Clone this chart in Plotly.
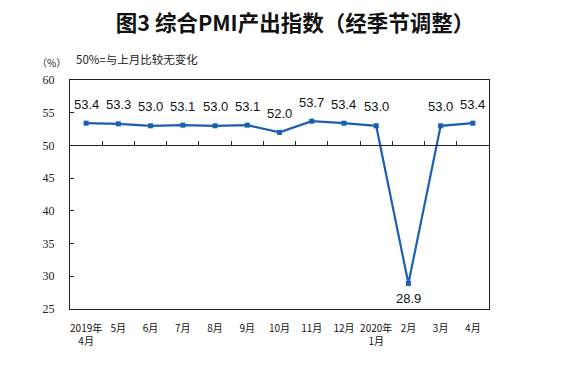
import plotly.graph_objects as go

months = ["2019年<br>4月", "5月", "6月", "7月", "8月", "9月", "10月", "11月", "12月",
          "2020年<br>1月", "2月", "3月", "4月"]
pmi = [53.4, 53.3, 53.0, 53.1, 53.0, 53.1, 52.0, 53.7, 53.4, 53.0, 28.9, 53.0, 53.4]
y_ticks = [25, 30, 35, 40, 45, 50, 55, 60]

xs = list(range(len(months)))
blue = "#1a5fb4"

# page body has an 8px margin; figure sized to fit the window
OFF = 8
W, H = 567 - OFF, 377 - OFF
L, R, T, B = 62, 78, 72, 68
pw, ph = W - L - R, H - T - B


def px(sx):
    return (sx - OFF - L) / pw


def py(sy):
    return (H - (sy - OFF) - B) / ph


fig = go.Figure()
fig.add_trace(go.Scatter(
    x=xs, y=pmi, mode="lines+markers",
    line=dict(color=blue, width=2.2),
    marker=dict(symbol="square", size=5, color=blue),
    hoverinfo="skip", showlegend=False,
))
# invisible trace for the baseline axis at 50
fig.add_trace(go.Scatter(x=[xs[0], xs[-1]], y=[50, 50], xaxis="x2", mode="lines",
                         line=dict(width=0), hoverinfo="skip", showlegend=False))

for x, v in zip(xs, pmi):
    below = v < 50
    fig.add_annotation(x=x, y=v, text=f"{v:.1f}", showarrow=False,
                       xanchor="center", yanchor="middle",
                       yshift=-15 if below else 19,
                       font=dict(family="Liberation Sans, Arial", size=13, color="#111"))

fig.update_layout(
    width=W, height=H,
    margin=dict(l=L, r=R, t=T, b=B, autoexpand=False),
    paper_bgcolor="white", plot_bgcolor="white",
    title=dict(text="<b>图3 综合PMI产出指数（经季节调整）</b>", xref="container",
               x=(295 - OFF) / W, xanchor="center",
               yref="container", y=1 - (23 - OFF) / H, yanchor="middle",
               font=dict(family="Noto Sans CJK SC", size=21.5, color="#111")),
    xaxis=dict(range=[-0.5, len(months) - 0.5], tickmode="array", tickvals=xs, ticktext=months,
               automargin=False, ticklabelstandoff=10,
               showgrid=False, zeroline=False, showline=True, linecolor="#222", linewidth=1,
               mirror=True, ticks="", tickfont=dict(family="Noto Sans CJK SC", size=10, color="#111")),
    xaxis2=dict(overlaying="x", anchor="free", position=(50 - 25) / 35, side="top",
                automargin=False,
                range=[-0.5, len(months) - 0.5], tickmode="array",
                tickvals=[i + 0.5 for i in xs[:-1]], showticklabels=False,
                ticks="outside", ticklen=4, tickcolor="#222", showline=True,
                linecolor="#222", linewidth=1, showgrid=False, zeroline=False),
    yaxis=dict(range=[25, 60], tickvals=y_ticks, showgrid=False, zeroline=False,
               automargin=False, ticklabelstandoff=12,
               showline=True, linecolor="#222", linewidth=1, mirror=True,
               ticks="inside", ticklen=4, tickcolor="#222",
               tickfont=dict(family="Liberation Serif, Times New Roman", size=12, color="#222")),
)

fig.add_annotation(x=px(51), y=py(62), xref="paper", yref="paper", text="（%）",
                   xanchor="center", yanchor="middle",
                   showarrow=False, font=dict(family="Noto Sans CJK SC", size=10, color="#222"))
fig.add_annotation(x=px(74), y=py(59), xref="paper", yref="paper",
                   xanchor="left", yanchor="middle",
                   text="50%=与上月比较无变化", showarrow=False,
                   font=dict(family="Noto Sans CJK SC", size=11.5, color="#222"))

fig.write_html("out.html")
